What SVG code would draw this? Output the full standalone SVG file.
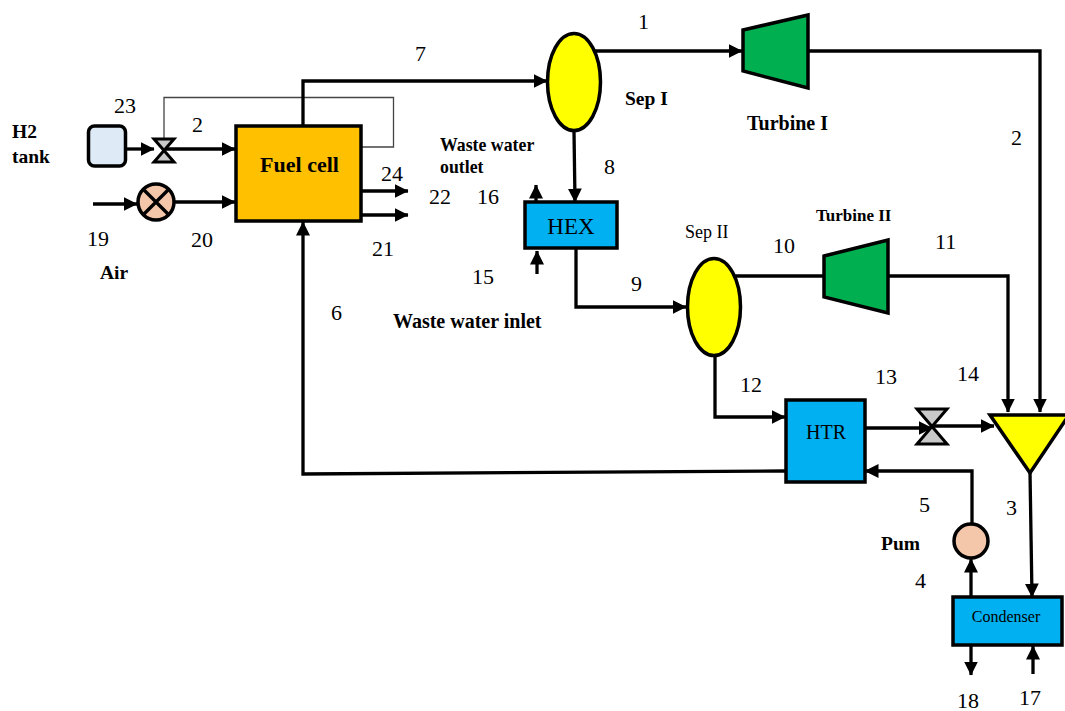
<svg xmlns="http://www.w3.org/2000/svg" width="1065" height="711" viewBox="0 0 1065 711">
<style>
.t{font-family:"Liberation Serif","Times New Roman",serif;font-size:22px;fill:#000}
.b{font-family:"Liberation Serif","Times New Roman",serif;font-size:19.500px;font-weight:bold;fill:#000}
.s{fill:none;stroke:#000;stroke-width:3.300}
.a{marker-end:url(#h)}
.n{stroke:#000;stroke-width:3.500}
.v{fill:#c9c9c9;stroke:#000;stroke-width:3;stroke-linejoin:miter}
</style>
<defs>
<marker id="h" markerUnits="userSpaceOnUse" markerWidth="15" markerHeight="15" refX="13.500" refY="7" orient="auto" viewBox="0 0 15 15"><path d="M0 0L14 7L0 14Z" fill="#000"/></marker>
</defs>
<rect width="1065" height="711" fill="#fff"/>
<g id="connectors">
<path class="s a" d="M125 149H154"/>
<path class="s a" d="M166 149H235"/>
<path class="s a" d="M93 204H137"/>
<path class="s a" d="M175 202H235"/>
<path d="M164 138V97.500H393.500V147H361" fill="none" stroke="#444" stroke-width="1.300"/>
<path class="s a" d="M303 126V81H547"/>
<path class="s a" d="M361 191H408"/>
<path class="s a" d="M361 215H408"/>
<path class="s a" d="M595 51H742"/>
<path class="s a" d="M808 51H1040V412"/>
<path class="s a" d="M574 131L575 202"/>
<path class="s a" d="M536 202V185"/>
<path class="s a" d="M537 274V251"/>
<path class="s a" d="M576 248V307H686"/>
<path class="s" d="M735 276H824"/>
<path class="s a" d="M889 276H1008V412"/>
<path class="s a" d="M715 356V417H785"/>
<path class="s a" d="M866 428H932"/>
<path class="s a" d="M932 426H994"/>
<path class="s a" d="M785 471L303 474V222"/>
<path class="s a" d="M972 525V471H865"/>
<path class="s a" d="M1030 472L1032 597"/>
<path class="s a" d="M971 597V559"/>
<path class="s a" d="M971 645V675"/>
<path class="s a" d="M1033 674V646"/>
</g>
<g id="h2-tank"><rect class="n" x="88.500" y="126" width="37" height="40" rx="6" fill="#deebf7"/><text class="b" x="12" y="138">H2</text><text class="b" x="12" y="163">tank</text></g>
<g id="valve-1"><path class="v" d="M154 139H174L154 162H174Z"/></g>
<g id="compressor"><circle class="n" cx="156" cy="202" r="18" fill="#f4c7ab"/><path class="s" d="M143.500 189.500L168.500 214.500M168.500 189.500L143.500 214.500"/></g>
<g id="fuel-cell"><rect x="236" y="126" width="125" height="95" fill="#ffc000" stroke="#000" stroke-width="3.500"/><text x="299.500" y="172" text-anchor="middle" class="b" style="font-size:22px">Fuel cell</text></g>
<g id="sep-1"><ellipse class="n" cx="574" cy="82" rx="26.500" ry="48.500" fill="#ffff00"/></g>
<g id="turbine-1"><path class="n" d="M743 30L808 15V88L743 71Z" fill="#00b050"/></g>
<g id="hex"><rect class="n" x="525" y="202" width="92" height="46" fill="#00b0f0"/><text x="571" y="234" text-anchor="middle" class="t" style="font-size:23px">HEX</text></g>
<g id="sep-2"><ellipse class="n" cx="714" cy="307" rx="26.500" ry="48.500" fill="#ffff00"/></g>
<g id="turbine-2"><path class="n" d="M824 256L888 240V313L824 297Z" fill="#00b050"/></g>
<g id="htr"><rect class="n" x="786" y="400" width="79" height="82" fill="#00b0f0"/><text x="826" y="439" text-anchor="middle" class="t" style="font-size:20px">HTR</text></g>
<g id="valve-2"><path class="v" d="M917 409H947L917 444H947Z"/></g>
<g id="mixer"><path class="n" d="M990 415H1069L1030 473Z" fill="#ffff00"/></g>
<g id="pump"><circle class="n" cx="971" cy="541" r="17" fill="#f4c7ab"/></g>
<g id="condenser"><rect class="n" x="953" y="597" width="109" height="48" fill="#00b0f0"/><text x="1006" y="622" text-anchor="middle" class="t" style="font-size:16px">Condenser</text></g>
<g id="labels">
<text class="t" x="638" y="29">1</text>
<text class="t" x="415" y="61">7</text>
<text class="t" x="114" y="113">23</text>
<text class="t" x="192" y="132">2</text>
<text class="t" x="1011" y="145">2</text>
<text class="t" x="604" y="174">8</text>
<text class="t" x="381" y="181">24</text>
<text class="t" x="429" y="204">22</text>
<text class="t" x="477" y="204">16</text>
<text class="t" x="87" y="246">19</text>
<text class="t" x="191" y="247">20</text>
<text class="t" x="372" y="256">21</text>
<text class="t" x="472" y="284">15</text>
<text class="t" x="631" y="291">9</text>
<text class="t" x="331" y="320">6</text>
<text class="t" x="773" y="253">10</text>
<text class="t" x="935" y="249">11</text>
<text class="t" x="740" y="392">12</text>
<text class="t" x="875" y="384">13</text>
<text class="t" x="957" y="381">14</text>
<text class="t" x="919" y="512">5</text>
<text class="t" x="1006" y="515">3</text>
<text class="t" x="915" y="588">4</text>
<text class="t" x="957" y="708">18</text>
<text class="t" x="1019" y="705">17</text>
<text class="b" x="625" y="105">Sep I</text>
<text class="b" x="747" y="130" style="font-size:20px">Turbine I</text>
<text class="b" x="816" y="221" style="font-size:17px">Turbine II</text>
<text class="t" x="685" y="238" style="font-size:18px">Sep II</text>
<text class="b" x="440" y="151" style="font-size:17.800px">Waste water</text>
<text class="b" x="440" y="173" style="font-size:17.800px">outlet</text>
<text class="b" x="393" y="328" style="font-size:20px">Waste water inlet</text>
<text class="b" x="100" y="279">Air</text>
<text class="b" x="881" y="550">Pum</text>
</g>
</svg>
